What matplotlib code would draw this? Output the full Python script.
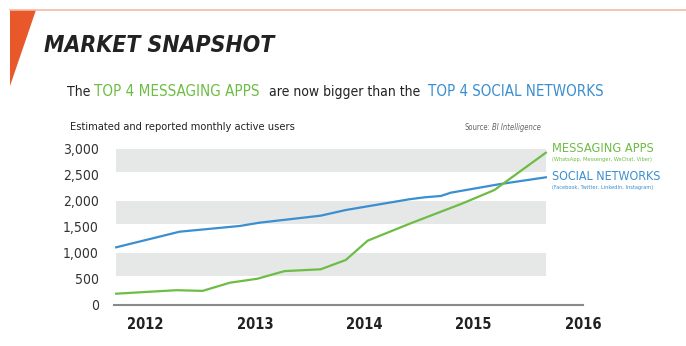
import matplotlib.pyplot as plt
from matplotlib.patches import Polygon
from matplotlib.lines import Line2D

# monthly active users (millions), read per quarter-ish point
msg_years = [2011.73, 2012.28, 2012.52, 2012.77, 2013.02, 2013.27, 2013.60,
             2013.83, 2014.03, 2014.41, 2014.90, 2015.19, 2015.66]
msg_users = [208, 275, 262, 419, 495, 642, 677, 856, 1227, 1550, 1946, 2202, 2919]

soc_years = [2011.73, 2012.31, 2012.86, 2013.04, 2013.60, 2013.83, 2014.41,
             2014.55, 2014.70, 2014.79, 2015.23, 2015.66]
soc_users = [1100, 1400, 1510, 1573, 1708, 1817, 2023, 2061, 2087, 2150, 2312, 2446]

year_ticks = [2012, 2013, 2014, 2015, 2016]
user_ticks = [0, 500, 1000, 1500, 2000, 2500, 3000]
bands = [(540, 1000), (1545, 2000), (2545, 3000)]

GREEN = '#6dbd45'
BLUE = '#3a8fd0'
BAND = '#e6e7e7'

W, H = 686, 346
fig = plt.figure(figsize=(W / 100, H / 100), dpi=100)
fig.patch.set_facecolor('white')


def px(x, y):
    return x / W, 1 - y / H


cond = dict(family='DejaVu Sans', fontstretch='condensed')

# header decoration
fig.add_artist(Line2D([10 / W, 1], [1 - 10 / H] * 2, color='#f2b9a6', lw=1.2))
fig.add_artist(Polygon([px(10, 10), px(36, 10), px(10, 86)], closed=True,
                       facecolor='#e8582a', edgecolor='none',
                       transform=fig.transFigure))

fig.text(*px(44, 46), 'MARKET SNAPSHOT', fontsize=16.5, fontweight='bold',
         style='italic', color='#222222', va='center', ha='left', **cond)

# subtitle pieces
sub_y = 92
fig.text(*px(67, sub_y), 'The', fontsize=10, color='#222222', va='center', **cond)
fig.text(*px(94, sub_y), 'TOP 4 MESSAGING APPS', fontsize=10.9, color=GREEN,
         va='center', **cond)
fig.text(*px(269, sub_y), 'are now bigger than the', fontsize=10,
         color='#222222', va='center', **cond)
fig.text(*px(428, sub_y), 'TOP 4 SOCIAL NETWORKS', fontsize=10.8, color=BLUE,
         va='center', **cond)

fig.text(*px(70, 127), 'Estimated and reported monthly active users',
         fontsize=7.9, color='#222222', va='center', **cond)
fig.text(*px(490, 128), 'Source:', fontsize=5.5, color='#666666',
         va='center', ha='right', **cond)
fig.text(*px(492, 128), 'BI Intelligence', fontsize=5.5, color='#666666',
         style='italic', va='center', **cond)

# plot area
ymax = 3050
ax = fig.add_axes([114 / W, (H - 304.5) / H, 469 / W, ymax * 0.052 / H])
ax.set_xlim(2011.71, 2015.99)
ax.set_ylim(0, ymax)

for lo, hi in bands:
    ax.fill_between([2011.73, 2015.66], lo, hi, color=BAND, lw=0, zorder=1)

ax.plot(soc_years, soc_users, color=BLUE, lw=1.6, zorder=3, solid_joinstyle='round')
ax.plot(msg_years, msg_users, color=GREEN, lw=1.6, zorder=3, solid_joinstyle='round')

for s in ['top', 'right', 'left']:
    ax.spines[s].set_visible(False)
ax.spines['bottom'].set_color('#8a8a8a')
ax.spines['bottom'].set_linewidth(1.5)

ax.set_yticks(user_ticks)
ax.set_yticklabels(['{:,}'.format(v) for v in user_ticks], fontsize=10,
                   color='#333333', **cond)
ax.set_xticks(year_ticks)
ax.set_xticklabels([str(y) for y in year_ticks], fontsize=10.5,
                   fontweight='bold', color='#222222', **cond)
ax.tick_params(axis='both', length=0)
ax.tick_params(axis='y', pad=11)
ax.tick_params(axis='x', pad=9)
ax.patch.set_alpha(0)

# series labels at the right end
fig.text(*px(552, 148), 'MESSAGING APPS', fontsize=9.2, color=GREEN,
         va='center', **cond)
fig.text(*px(552, 160), '(WhatsApp, Messenger, WeChat, Viber)', fontsize=4.1,
         color=GREEN, va='center', **cond)
fig.text(*px(552, 176), 'SOCIAL NETWORKS', fontsize=8.9, color=BLUE,
         va='center', **cond)
fig.text(*px(552, 188), '(Facebook, Twitter, LinkedIn, Instagram)', fontsize=4.1,
         color=BLUE, va='center', **cond)

fig.savefig('out.png', dpi=100, facecolor='white')
